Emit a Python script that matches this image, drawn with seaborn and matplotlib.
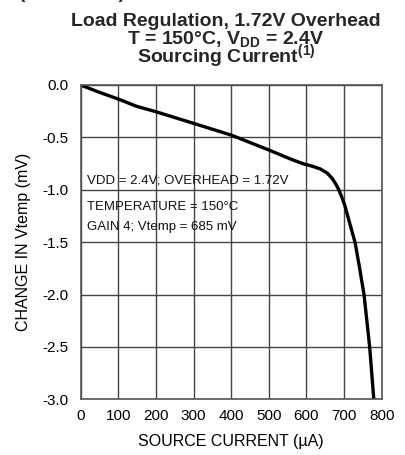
import pandas as pd
import seaborn as sns
import matplotlib.pyplot as plt

source_current = [0, 50, 100, 150, 200, 300, 400, 500, 560, 590, 615, 636,
                  655, 668, 678, 686, 694, 702, 715, 729, 740, 753, 768, 779]
change_vtemp = [0, -0.07, -0.134, -0.205, -0.255, -0.366, -0.478, -0.62,
                -0.71, -0.75, -0.775, -0.80, -0.84, -0.89, -0.945, -1.0,
                -1.07, -1.15, -1.32, -1.5, -1.72, -2.0, -2.5, -3.0]

x_ticks = [0, 100, 200, 300, 400, 500, 600, 700, 800]
y_ticks = [0.0, -0.5, -1.0, -1.5, -2.0, -2.5, -3.0]

notes = ['VDD = 2.4V; OVERHEAD = 1.72V', 'TEMPERATURE = 150°C', 'GAIN 4; Vtemp = 685 mV']
note_y = [-0.91, -1.16, -1.355]

df = pd.DataFrame({'current': source_current, 'dv': change_vtemp})

sns.set_theme(style="whitegrid")
plt.rcParams['font.family'] = ['Liberation Sans', 'DejaVu Sans']
plt.rcParams['mathtext.fontset'] = 'custom'
plt.rcParams['mathtext.rm'] = 'Liberation Sans'
plt.rcParams['mathtext.bf'] = 'Liberation Sans:bold'

fig = plt.figure(figsize=(4.05, 4.55), dpi=100)
ax = fig.add_axes([0.199, 0.1224, 0.7435, 0.6908])

sns.lineplot(x='current', y='dv', data=df, sort=False, color='black', linewidth=2.4, ax=ax)

ax.set_xlim(0, 800)
ax.set_ylim(-3.0, 0.0)
ax.set_xticks(x_ticks)
ax.set_yticks(y_ticks)
ax.set_yticklabels([f'{v:.1f}' for v in y_ticks])
ax.tick_params(axis='both', length=0, labelsize=11, colors='black')
ax.tick_params(axis='x', pad=7)
ax.tick_params(axis='y', pad=9)
ax.grid(True, color='#444444', linewidth=1.0)
for s in ax.spines.values():
    s.set_color('#555555')
    s.set_linewidth(1.2)
ax.set_facecolor('white')

ax.set_xlabel('SOURCE CURRENT (µA)', fontsize=11.5, labelpad=8, color='black')
ax.set_ylabel('CHANGE IN Vtemp (mV)', fontsize=11.5, labelpad=8, color='black')

for txt, yv in zip(notes, note_y):
    ax.text(17, yv, txt, fontsize=9.5, va='center', ha='left', color='#111111')

fig.text(125 / 405, 1 + 6 / 455, 'TYPICAL CHARACTERISTICS (continued)', ha='right', va='center',
         fontsize=14, fontweight='bold')
fig.text(226 / 405, 1 - 26 / 455, 'Load Regulation, 1.72V Overhead', ha='center', va='baseline',
         fontsize=14, fontweight='bold')
fig.text(226 / 405, 1 - 45 / 455, r'T = 150°C, V$_{\mathbf{DD}}$ = 2.4V', ha='center', va='baseline',
         fontsize=14, fontweight='bold')
fig.text(226 / 405, 1 - 63 / 455, r'Sourcing Current$^{\mathbf{(1)}}$', ha='center', va='baseline',
         fontsize=14, fontweight='bold')

plt.savefig('out.png', dpi=100)
